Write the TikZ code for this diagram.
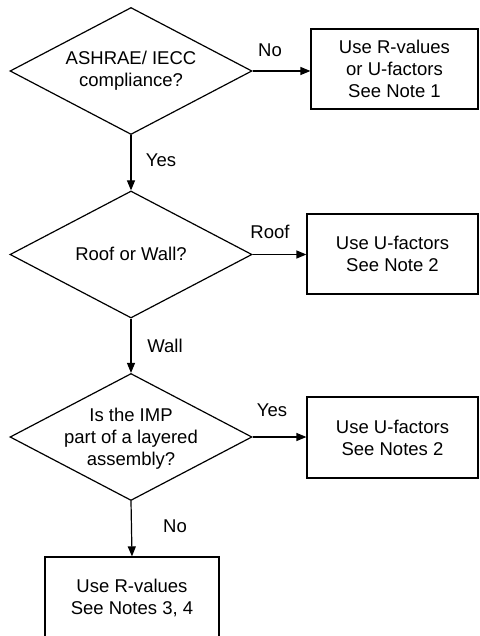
\documentclass[tikz,border=0pt]{standalone}
\usepackage{fontspec}
\setmainfont{Liberation Sans}
\usetikzlibrary{shapes.geometric,arrows.meta}
\begin{document}
\begin{tikzpicture}[x=1pt,y=-1pt,
  txt/.style={font=\fontsize{18.5}{22}\selectfont, align=center, inner sep=0pt},
  dia/.style={draw, line width=1.2pt, shape=diamond, minimum width=242pt, minimum height=127pt, inner sep=0pt},
  outbox/.style={draw, line width=1.2pt, rectangle, inner sep=0pt, font=\fontsize{18.5}{22}\selectfont, align=center},
  lbl/.style={font=\fontsize{18.5}{22}\selectfont, inner sep=0pt},
  conn/.style={line width=1.2pt, -{Triangle[length=10pt,width=8pt]}}
]
\useasboundingbox (0,0) rectangle (479,636);
% decisions
\node[dia] (d1) at (131,71) {};
\node[txt] (t1) at (131,71) {ASHRAE/ IECC\\compliance?};
\node[dia] (d2) at (131,254.5) {};
\node[txt] (t2) at (131,254) {Roof or Wall?};
\node[dia] (d3) at (131,437) {};
\node[txt] (t3) at (131,439) {Is the IMP\\part of a layered\\assembly?};
% outcome boxes
\node[outbox, minimum width=167pt, minimum height=80pt] (b1) at (394.5,69) {Use R-values\\or U-factors\\See Note 1};
\node[outbox, minimum width=171pt, minimum height=80pt] (b2) at (392.5,254) {Use U-factors\\See Note 2};
\node[outbox, minimum width=171pt, minimum height=81pt] (b3) at (392.5,437.5) {Use U-factors\\See Notes 2};
\node[outbox, minimum width=174pt, minimum height=82pt] (b4) at (132,598) {Use R-values\\See Notes 3, 4};
% connectors
\draw[conn] (d1.east) -- (d1.east -| b1.west);
\draw[conn] (d1.south) -- (d2.north);
\draw[conn] (d2.east) -- (d2.east -| b2.west);
\draw[conn] (d2.south) -- (d3.north);
\draw[conn] (d3.east) -- (d3.east -| b3.west);
\draw[conn] (d3.south) -- (b4.north);
% labels
\node[lbl] (l1) at (270,50) {No};
\node[lbl] (l2) at (161,160) {Yes};
\node[lbl] (l3) at (270,232) {Roof};
\node[lbl] (l4) at (165,346) {Wall};
\node[lbl] (l5) at (272,410) {Yes};
\node[lbl] (l6) at (175,526) {No};
\end{tikzpicture}
\end{document}
